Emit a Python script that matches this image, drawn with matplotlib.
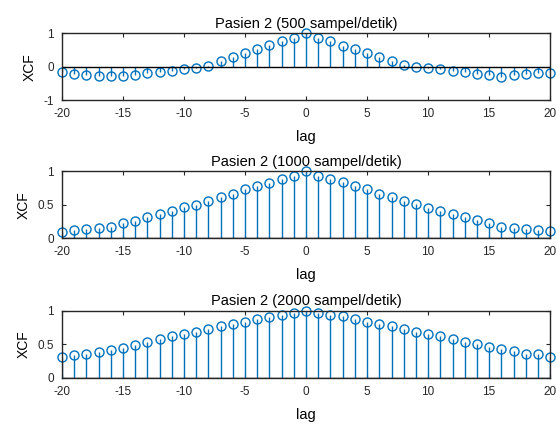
"""
plot cross-correlation (XCF) vs lag for Pasien 2 at three sampling rates
"""

import numpy as np
import matplotlib.pyplot as plt
import matplotlib as mpl

#%% global plot settings

mpl.rcParams['xtick.direction'] = 'in'
mpl.rcParams['ytick.direction'] = 'in'
mpl.rcParams['xtick.top'] = True
mpl.rcParams['ytick.right'] = True
mpl.rcParams['xtick.major.size'] = 3
mpl.rcParams['ytick.major.size'] = 3
mpl.rcParams['axes.unicode_minus'] = False
plt.rc('font', **{'family': 'sans-serif', 'sans-serif': ['Liberation Sans'], 'size': 8})

#%% data

lags = np.arange(-20, 21)

xcf_500 = [-0.17, -0.21, -0.24, -0.27, -0.29, -0.27, -0.24, -0.18, -0.15, -0.12,
           -0.08, -0.04, 0.03, 0.17, 0.29, 0.42, 0.54, 0.65, 0.77, 0.87,
           1.00,
           0.87, 0.77, 0.62, 0.53, 0.40, 0.30, 0.18, 0.05, -0.02, -0.05,
           -0.08, -0.13, -0.16, -0.22, -0.26, -0.30, -0.26, -0.23, -0.20, -0.18]

xcf_1000 = [0.09, 0.12, 0.14, 0.15, 0.16, 0.22, 0.26, 0.31, 0.36, 0.41,
            0.46, 0.50, 0.56, 0.61, 0.66, 0.73, 0.78, 0.83, 0.88, 0.93,
            1.00,
            0.93, 0.88, 0.84, 0.78, 0.73, 0.66, 0.62, 0.56, 0.51, 0.45,
            0.40, 0.36, 0.31, 0.27, 0.23, 0.17, 0.15, 0.14, 0.12, 0.10]

xcf_2000 = [0.31, 0.34, 0.35, 0.38, 0.41, 0.45, 0.49, 0.53, 0.58, 0.62,
            0.65, 0.68, 0.73, 0.77, 0.81, 0.84, 0.88, 0.91, 0.94, 0.97,
            1.00,
            0.97, 0.94, 0.92, 0.88, 0.84, 0.81, 0.77, 0.73, 0.68, 0.65,
            0.62, 0.58, 0.53, 0.50, 0.46, 0.43, 0.40, 0.36, 0.35, 0.31]

titles = ['Pasien 2 (500 sampel/detik)',
          'Pasien 2 (1000 sampel/detik)',
          'Pasien 2 (2000 sampel/detik)']
series = [xcf_500, xcf_1000, xcf_2000]
ylims = [(-1, 1), (0, 1), (0, 1)]
yticks = [[-1, 0, 1], [0, 0.5, 1], [0, 0.5, 1]]
yticklabels = [['-1', '0', '1'], ['0', '0.5', '1'], ['0', '0.5', '1']]

#%% plot

fig = plt.figure(figsize=(5.56, 4.26), dpi=100)

left, width, height = 0.1115, 0.878, 0.157
bottoms = [0.765, 0.441, 0.113]
color = '#0072BD'
axcolor = '#262626'

for i in range(3):
    ax = fig.add_axes([left, bottoms[i], width, height])
    ml, sl, bl = ax.stem(lags, series[i], basefmt='k-')
    plt.setp(sl, color=color, linewidth=1.0)
    plt.setp(ml, markerfacecolor='none', markeredgecolor=color,
             markersize=6.5, markeredgewidth=1.0)
    plt.setp(bl, color='k', linewidth=1.0)
    ml.set_clip_on(False)

    ax.set_xlim(-20, 20)
    ax.set_ylim(*ylims[i])
    ax.set_xticks(np.arange(-20, 21, 5))
    ax.set_yticks(yticks[i])
    ax.set_yticklabels(yticklabels[i])
    for s in ax.spines.values():
        s.set_color(axcolor)
        s.set_linewidth(1.0)
    ax.tick_params(colors=axcolor, labelsize=8.5)
    ax.tick_params(axis='x', pad=6)
    ax.tick_params(axis='y', pad=6)

    ax.set_title(titles[i], fontsize=10.5, pad=4)
    ax.set_xlabel('lag', fontsize=10.5, labelpad=7)
    ax.set_ylabel('XCF', fontsize=10, labelpad=5)

fig.savefig('out.png', dpi=100)
